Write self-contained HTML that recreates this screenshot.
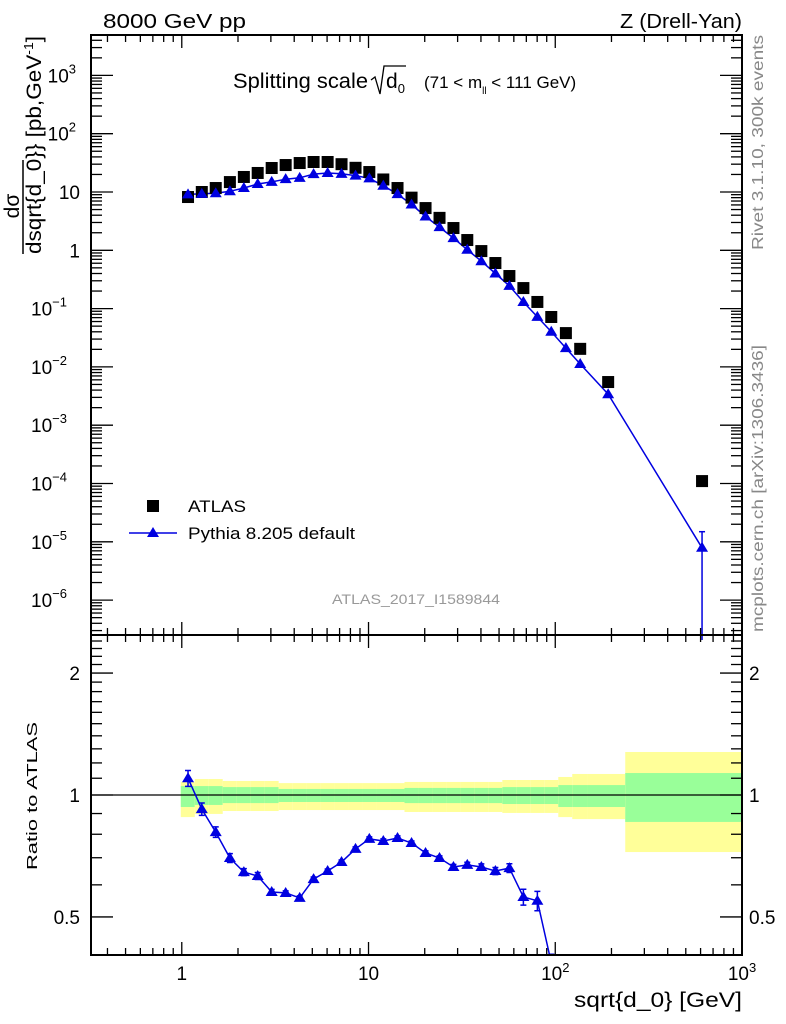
<!DOCTYPE html>
<html><head><meta charset="utf-8"><style>
html,body{margin:0;padding:0;background:#fff;width:786px;height:1024px;overflow:hidden;}
svg{display:block;font-family:"Liberation Sans",sans-serif;}
</style></head><body>
<svg id="c" width="786" height="1024" viewBox="0 0 786 1024" xmlns="http://www.w3.org/2000/svg">
<defs>
<clipPath id="cpMain"><rect x="91" y="35" width="651" height="600"/></clipPath>
<clipPath id="cpRatio"><rect x="91" y="635" width="651" height="320"/></clipPath>
</defs>
<g id="bands" clip-path="url(#cpRatio)"></g>
<g id="marks"></g>
<rect x="91" y="35" width="651" height="600" fill="none" stroke="#000" stroke-width="2"/>
<rect x="91" y="635" width="651" height="320" fill="none" stroke="#000" stroke-width="2"/>
<g id="ticks"></g>
<text x="103" y="28" font-size="20" textLength="143" lengthAdjust="spacingAndGlyphs">8000 GeV pp</text>
<text x="620" y="28" font-size="20" textLength="122" lengthAdjust="spacingAndGlyphs">Z (Drell-Yan)</text>
<text x="233" y="88" font-size="21" textLength="135" lengthAdjust="spacingAndGlyphs">Splitting scale</text>
<path d="M371,80 l4,-3 l5,17 l4,-28 h22" fill="none" stroke="#000" stroke-width="1.3"/>
<text x="386" y="88" font-size="21">d<tspan font-size="13" dy="5">0</tspan></text>
<text x="424" y="88" font-size="17">(71 &lt; m<tspan font-size="10" dy="6">ll</tspan><tspan dy="-6"> &lt; 111 GeV)</tspan></text>
<text x="332" y="604" font-size="14" fill="#999" textLength="168" lengthAdjust="spacingAndGlyphs">ATLAS_2017_I1589844</text>
<text transform="translate(763,250) rotate(-90)" font-size="16" fill="#888" textLength="215" lengthAdjust="spacingAndGlyphs">Rivet 3.1.10,  300k events</text>
<text transform="translate(763,632) rotate(-90)" font-size="16" fill="#888" textLength="287" lengthAdjust="spacingAndGlyphs">mcplots.cern.ch [arXiv:1306.3436]</text>
<g>
<text transform="translate(19,206) rotate(-90)" font-size="21" text-anchor="middle">dσ</text>
<line x1="23" y1="254" x2="23" y2="160" stroke="#000" stroke-width="1.5"/>
<text transform="translate(41,254) rotate(-90)" font-size="21" textLength="218" lengthAdjust="spacingAndGlyphs">dsqrt{d_0}} [pb,GeV<tspan font-size="13" dy="-8">-1</tspan><tspan dy="8">]</tspan></text>
</g>
<text transform="translate(37,870) rotate(-90)" font-size="15" textLength="148" lengthAdjust="spacingAndGlyphs">Ratio to ATLAS</text>
<text x="574" y="1007" font-size="21" textLength="168" lengthAdjust="spacingAndGlyphs">sqrt{d_0} [GeV]</text>
<g>
<rect x="147" y="500" width="12" height="12" fill="#000"/>
<text x="188" y="512" font-size="17" textLength="58" lengthAdjust="spacingAndGlyphs">ATLAS</text>
<line x1="129" y1="533" x2="177" y2="533" stroke="#0000e0" stroke-width="1.5"/>
<path d="M153,527 l6,10 h-12 z" fill="#0000e0"/>
<text x="188" y="539" font-size="17" textLength="167" lengthAdjust="spacingAndGlyphs">Pythia 8.205 default</text>
</g>
</svg>
<script>
const xVals=[1.08,1.28,1.52,1.81,2.15,2.55,3.03,3.60,4.28,5.08,6.04,7.17,8.52,10.1,12.0,14.3,17.0,20.2,24.0,28.5,33.8,40.2,47.8,56.8,67.5,80.2,95.2,114,136,192,611];
const binEdges=[0.988,1.174,1.394,1.657,1.968,2.339,2.779,3.302,3.924,4.660,5.537,6.580,7.816,9.29,11.04,13.11,15.58,18.51,21.99,26.13,31.05,36.88,43.82,52.07,61.86,73.5,87.3,103.8,123.3,148,237,1000];
const atlasVals=[8.2,10,11.7,14.8,18.1,21.2,25.8,29,31.4,32.7,32.7,30,26,22,16.4,11.7,8.0,5.3,3.6,2.41,1.50,0.97,0.605,0.362,0.225,0.13,0.0718,0.038,0.0204,0.0055,1.1e-4];
const pythiaVals=[9.1,9.3,9.5,10.3,11.7,13.7,14.9,16.6,17.5,20.3,21.2,20.5,19.1,17.1,12.8,9.2,6.1,3.8,2.5,1.62,1.02,0.65,0.40,0.245,0.13,0.072,0.040,0.021,0.0112,0.0034,7.9e-6];
const pythiaErrHi=[0,0,0,0,0,0,0,0,0,0,0,0,0,0,0,0,0,0,0,0,0,0,0,0,0,0,0,0,0,0,7e-6];
const ratioVals=[1.10,0.923,0.81,0.699,0.645,0.631,0.576,0.573,0.557,0.62,0.649,0.683,0.736,0.779,0.77,0.783,0.761,0.719,0.699,0.664,0.672,0.664,0.649,0.66,0.56,0.548,0.385,0.33,0.30,0.30,0.07];
const ratioErr=[0.045,0.035,0.03,0.025,0.02,0.02,0.015,0.012,0.012,0.012,0.012,0.012,0.012,0.012,0.012,0.012,0.012,0.012,0.012,0.015,0.015,0.018,0.02,0.025,0.045,0.055,0.05,0.05,0.05,0.05,0.05];
const yelUp=[1.077,1.095,1.095,1.083,1.083,1.083,1.083,1.070,1.070,1.070,1.070,1.070,1.070,1.070,1.070,1.070,1.077,1.077,1.077,1.077,1.077,1.077,1.077,1.089,1.089,1.089,1.089,1.108,1.127,1.127,1.277];
const yelDn=[0.882,0.898,0.898,0.913,0.913,0.913,0.913,0.918,0.918,0.918,0.918,0.918,0.918,0.918,0.918,0.918,0.908,0.908,0.908,0.908,0.908,0.908,0.908,0.903,0.903,0.903,0.903,0.882,0.872,0.872,0.723];
const grnUp=[1.052,1.052,1.052,1.046,1.046,1.046,1.046,1.035,1.035,1.035,1.035,1.035,1.035,1.035,1.035,1.035,1.041,1.041,1.041,1.041,1.041,1.041,1.041,1.046,1.046,1.046,1.046,1.058,1.058,1.058,1.133];
const grnDn=[0.934,0.945,0.945,0.955,0.955,0.955,0.955,0.961,0.961,0.961,0.961,0.961,0.961,0.961,0.961,0.961,0.955,0.955,0.955,0.955,0.955,0.955,0.955,0.950,0.950,0.950,0.950,0.934,0.934,0.934,0.858];
const xTickLabels=["1","10","10²","10³"];
const ratioTickLabels=["0.5","1","2"];

const NS="http://www.w3.org/2000/svg";
const X0=91,X1=742,LXMIN=Math.log10(0.3265),LXMAX=3;
function xs(v){return X0+(Math.log10(v)-LXMIN)/(LXMAX-LXMIN)*(X1-X0);}
function ys(v){return 192-58.3*(Math.log10(v)-1);}
function yr(r){return 795-405*Math.log10(r);}
function mk(tag,attrs,parent){const e=document.createElementNS(NS,tag);for(const k in attrs)e.setAttribute(k,attrs[k]);parent.appendChild(e);return e;}
const bands=document.getElementById('bands'),marks=document.getElementById('marks'),ticks=document.getElementById('ticks');

for(let i=0;i<xVals.length;i++){
  const a=xs(binEdges[i]),b=xs(binEdges[i+1]);
  const y1=mk('rect',{x:a,y:yr(yelUp[i]),width:b-a,height:yr(yelDn[i])-yr(yelUp[i]),fill:'#ffff99'},bands);
  
  
  const g1=mk('rect',{x:a,y:yr(grnUp[i]),width:b-a,height:yr(grnDn[i])-yr(grnUp[i]),fill:'#99ff99'},bands);
  
  
}
const ref=mk('line',{x1:X0,x2:X1,y1:yr(1),y2:yr(1),stroke:'#000','stroke-width':1.3},marks);



const gm=mk('g',{'clip-path':'url(#cpMain)'},marks);


let d='';
xVals.forEach((x,i)=>{d+=(i?'L':'M')+xs(x).toFixed(1)+','+ys(pythiaVals[i]).toFixed(1);});
const pl=mk('path',{d:d,fill:'none',stroke:'#0000e0','stroke-width':1.5},gm);


xVals.forEach((x,i)=>{
  const px=xs(x);
  if(pythiaErrHi[i]>0){
    const eb=mk('line',{x1:px,x2:px,y1:ys(pythiaVals[i]+pythiaErrHi[i]),y2:640,stroke:'#0000e0','stroke-width':1.5},gm);
    
    
    mk('line',{x1:px-3,x2:px+3,y1:ys(pythiaVals[i]+pythiaErrHi[i]),y2:ys(pythiaVals[i]+pythiaErrHi[i]),stroke:'#0000e0','stroke-width':1.5},gm);
  }
  const sq=mk('rect',{x:px-6,y:ys(atlasVals[i])-6,width:12,height:12,fill:'#000'},gm);
  
  
  const py=ys(pythiaVals[i]);
  const tr=mk('path',{d:`M${px},${py-6} l6,10 h-12 z`,fill:'#0000e0'},gm);
  
  
});
const gr=mk('g',{'clip-path':'url(#cpRatio)'},marks);


d='';
xVals.forEach((x,i)=>{d+=(i?'L':'M')+xs(x).toFixed(1)+','+yr(ratioVals[i]).toFixed(1);});
const rl=mk('path',{d:d,fill:'none',stroke:'#0000e0','stroke-width':1.5},gr);


const lastI=xVals.length-1;
mk('line',{x1:xs(xVals[lastI]),x2:xs(xVals[lastI]),y1:635,y2:640,stroke:'#0000e0','stroke-width':1.5},gr);
xVals.forEach((x,i)=>{
  const px=xs(x),r=ratioVals[i];
  const a=yr(r*(1+ratioErr[i])),b=yr(r*(1-ratioErr[i]));
  const eb=mk('path',{d:`M${px},${a}V${b}M${px-3},${a}h6M${px-3},${b}h6`,stroke:'#0000e0','stroke-width':1.5,fill:'none'},gr);
  
  
  const py=yr(r);
  const tr=mk('path',{d:`M${px},${py-6} l6,10 h-12 z`,fill:'#0000e0'},gr);
  
  
});

function tl(x1,y1,x2,y2){mk('line',{x1,y1,x2,y2,stroke:'#000','stroke-width':1.3},ticks);}
for(let e=-1;e<3;e++){for(let m=1;m<10;m++){const v=m*Math.pow(10,e);const px=xs(v);if(px<X0+1||px>X1-1)continue;
  const L=(m==1)?13:7;
  tl(px,35,px,35+L);tl(px,635,px,635-L);tl(px,635,px,635+L);tl(px,955,px,955-L);}}
xTickLabels.forEach((t,i)=>{
  const el=mk('text',{x:xs(Math.pow(10,i)),y:980,'font-size':19,'text-anchor':'middle'},ticks);
  
  
  if(i<2)el.textContent=t;else{el.textContent='10';const s=mk('tspan',{'font-size':13,dy:-8},el);s.textContent=String(i);}
});
for(let e=-7;e<4;e++){for(let m=1;m<10;m++){const v=m*Math.pow(10,e);const py=ys(v);if(py<36||py>634)continue;
  const L=(m==1)?22:11;tl(X0,py,X0+L,py);tl(X1,py,X1-L,py);}}
const ylabs=[[-6,"10","−6"],[-5,"10","−5"],[-4,"10","−4"],[-3,"10","−3"],[-2,"10","−2"],[-1,"10","−1"],[0,"1",""],[1,"10",""],[2,"10","2"],[3,"10","3"]];
ylabs.forEach(([e,b,s])=>{
  const el=mk('text',{x:s?(s.length>1?67:76):80,y:ys(Math.pow(10,e))+7,'font-size':19,'text-anchor':'end'},ticks);
  
  
  el.textContent=b;
  if(s){const t=mk('tspan',{'font-size':13,dy:-9},el);t.textContent=s;}
});
[0.5,0.6,0.7,0.8,0.9,1,1.1,1.2,1.3,1.4,1.5,1.6,1.7,1.8,1.9,2,2.1,2.2,2.3,2.4].forEach(r=>{
  const py=yr(r);if(py<636||py>954)return;
  const L=(r==0.5||r==1||r==2)?22:11;tl(X0,py,X0+L,py);tl(X1,py,X1-L,py);});
ratioTickLabels.forEach(t=>{
  const v=parseFloat(t);
  const el=mk('text',{x:80,y:yr(v)+7,'font-size':19,'text-anchor':'end'},ticks);
  
  
  el.textContent=t;
  const el2=mk('text',{x:749,y:yr(v)+7,'font-size':19},ticks);
  
  
  el2.textContent=t;
});
</script>
</body></html>
